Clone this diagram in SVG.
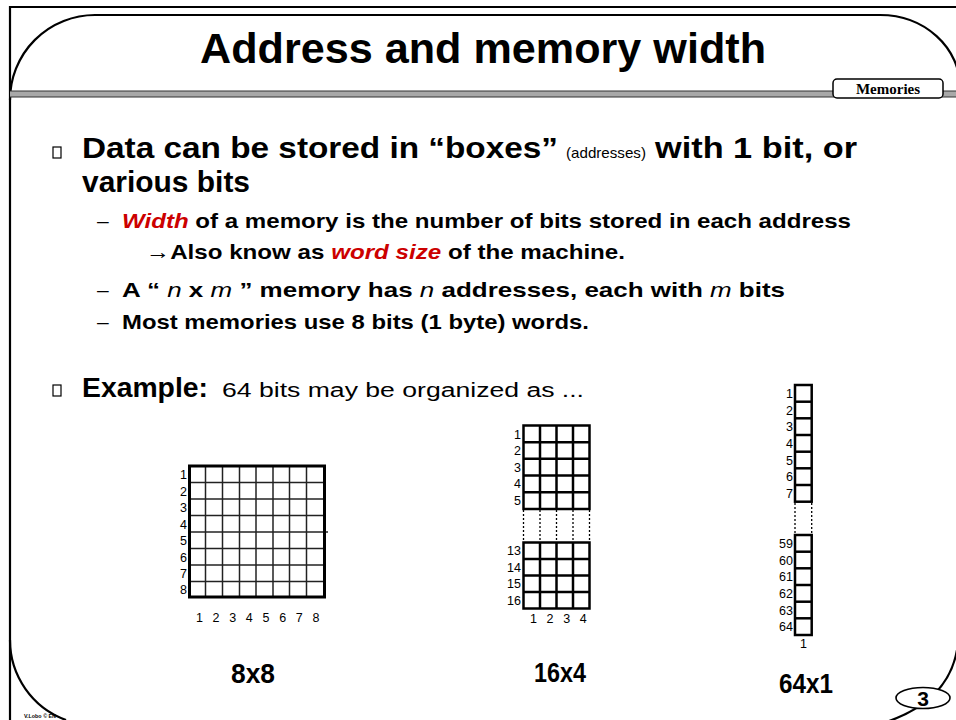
<svg xmlns="http://www.w3.org/2000/svg" width="956" height="720" viewBox="0 0 956 720">
<style>
.b{font-family:"Liberation Sans",Arial,sans-serif;font-weight:bold;fill:#000}
.n{font-family:"Liberation Sans",Arial,sans-serif;font-weight:normal;fill:#000}
.it{font-style:italic;font-weight:normal}
.red{fill:#CC0000;font-style:italic;font-weight:bold}
.lbl{font-family:"Liberation Sans",Arial,sans-serif;font-size:12.5px;fill:#000}
.frame{fill:none;stroke:#000;stroke-width:2.2}
.thick{fill:none;stroke:#000;stroke-width:3}
.thin{stroke:#222;stroke-width:1.5}
.cell{stroke:#000;stroke-width:2.5;fill:none}
.dot{stroke:#000;stroke-width:1.3;stroke-dasharray:2 2}
</style>

<g id="frame">
  <path class="frame" d="M10 720 V7 H956"/>
  <path class="frame" d="M10 100 A85 85 0 0 1 95 15 H880 A80 72 0 0 1 960 87"/>
  <path class="frame" d="M10 640 A85 85 0 0 0 66 720"/>
  <path class="frame" d="M957 650 C950 690 920 712 880 724"/>
  <rect x="10" y="91" width="946" height="6" fill="#a8a8a8"/>
  <line x1="10" y1="91" x2="956" y2="91" stroke="#333" stroke-width="1"/>
  <line x1="10" y1="97" x2="956" y2="97" stroke="#333" stroke-width="1"/>
  <text class="b" x="24" y="718" font-size="5.5" textLength="32" lengthAdjust="spacingAndGlyphs">V.Lobo © EN</text>
</g>

<g id="tab">
  <rect x="833" y="79" width="110" height="19" rx="4" fill="#fff" stroke="#000" stroke-width="1.5"/>
  <text x="888" y="94" text-anchor="middle" font-family="Liberation Serif,serif" font-weight="bold" font-size="15">Memories</text>
</g>

<g id="page-number">
  <ellipse cx="923" cy="698" rx="27" ry="10.5" fill="#fff" stroke="#000" stroke-width="1.6"/>
  <text class="b" x="923" y="706" text-anchor="middle" font-size="21">3</text>
</g>

<g id="title">
  <text class="b" x="200" y="63" font-size="42" textLength="566" lengthAdjust="spacingAndGlyphs">Address and memory width</text>
</g>

<g id="bullets">
  <rect x="53" y="147" width="8" height="11" fill="none" stroke="#000" stroke-width="1.2"/>
  <text class="b" x="82" y="158" font-size="29" textLength="476" lengthAdjust="spacingAndGlyphs">Data can be stored in “boxes”</text>
  <text class="n" x="566" y="158" font-size="15" textLength="80" lengthAdjust="spacingAndGlyphs">(addresses)</text>
  <text class="b" x="655" y="158" font-size="29" textLength="202" lengthAdjust="spacingAndGlyphs">with 1 bit, or</text>
  <text class="b" x="82" y="192" font-size="29" textLength="168" lengthAdjust="spacingAndGlyphs">various bits</text>

  <text class="n" x="97" y="228" font-size="21">–</text>
  <text class="b" x="122" y="228" font-size="21" textLength="729" lengthAdjust="spacingAndGlyphs"><tspan class="red">Width</tspan> of a memory is the number of bits stored in each address</text>

  <text class="b" x="146" y="259" font-size="21" textLength="479" lengthAdjust="spacingAndGlyphs">→Also know as <tspan class="red">word size</tspan> of the machine.</text>

  <text class="n" x="97" y="297" font-size="21">–</text>
  <text class="b" x="122" y="297" font-size="21" textLength="663" lengthAdjust="spacingAndGlyphs">A “ <tspan class="it">n</tspan> x <tspan class="it">m</tspan> ” memory has <tspan class="it">n</tspan> addresses, each with <tspan class="it">m</tspan> bits</text>

  <text class="n" x="97" y="329" font-size="21">–</text>
  <text class="b" x="122" y="329" font-size="21" textLength="467" lengthAdjust="spacingAndGlyphs">Most memories use 8 bits (1 byte) words.</text>

  <rect x="53" y="385" width="8" height="11" fill="none" stroke="#000" stroke-width="1.2"/>
  <text class="b" x="82" y="397" font-size="28" textLength="126" lengthAdjust="spacingAndGlyphs">Example:</text>
  <text class="n" x="222" y="397" font-size="20" textLength="362" lengthAdjust="spacingAndGlyphs">64 bits may be organized as ...</text>
</g>

<g id="mem-8x8">
  <g class="thin">
    <line x1="205.5" y1="466" x2="205.5" y2="597"/>
    <line x1="222.5" y1="466" x2="222.5" y2="597"/>
    <line x1="239.5" y1="466" x2="239.5" y2="597"/>
    <line x1="256" y1="466" x2="256" y2="597"/>
    <line x1="273" y1="466" x2="273" y2="597"/>
    <line x1="289.5" y1="466" x2="289.5" y2="597"/>
    <line x1="306.5" y1="466" x2="306.5" y2="597"/>
    <line x1="189" y1="482.5" x2="325" y2="482.5"/>
    <line x1="189" y1="499" x2="325" y2="499"/>
    <line x1="189" y1="515.5" x2="325" y2="515.5"/>
    <line x1="189" y1="532" x2="328" y2="532"/>
    <line x1="189" y1="548.5" x2="325" y2="548.5"/>
    <line x1="189" y1="565" x2="325" y2="565"/>
    <line x1="189" y1="581.5" x2="325" y2="581.5"/>
  </g>
  <rect class="thick" x="189.5" y="466" width="135" height="131"/>
  <g class="lbl" text-anchor="end">
    <text x="187" y="479">1</text><text x="187" y="495.5">2</text><text x="187" y="512">3</text><text x="187" y="528.5">4</text>
    <text x="187" y="545">5</text><text x="187" y="561.5">6</text><text x="187" y="578">7</text><text x="187" y="594">8</text>
  </g>
  <g class="lbl" text-anchor="middle">
    <text x="199.5" y="622">1</text><text x="216" y="622">2</text><text x="232.7" y="622">3</text><text x="249.3" y="622">4</text>
    <text x="266" y="622">5</text><text x="282.7" y="622">6</text><text x="299.3" y="622">7</text><text x="316" y="622">8</text>
  </g>
  <text class="b" x="253" y="683" text-anchor="middle" font-size="27" textLength="44" lengthAdjust="spacingAndGlyphs">8x8</text>
</g>

<g id="mem-16x4">
  <g class="cell">
    <rect x="523.5" y="425.5" width="66" height="83.5"/>
    <line x1="540" y1="425.5" x2="540" y2="509"/>
    <line x1="556.5" y1="425.5" x2="556.5" y2="509"/>
    <line x1="573" y1="425.5" x2="573" y2="509"/>
    <line x1="523.5" y1="442.2" x2="589.5" y2="442.2"/>
    <line x1="523.5" y1="458.8" x2="589.5" y2="458.8"/>
    <line x1="523.5" y1="475.5" x2="589.5" y2="475.5"/>
    <line x1="523.5" y1="492.2" x2="589.5" y2="492.2"/>
    <rect x="523.5" y="542.5" width="66" height="66"/>
    <line x1="540" y1="542.5" x2="540" y2="608.5"/>
    <line x1="556.5" y1="542.5" x2="556.5" y2="608.5"/>
    <line x1="573" y1="542.5" x2="573" y2="608.5"/>
    <line x1="523.5" y1="559" x2="589.5" y2="559"/>
    <line x1="523.5" y1="575.5" x2="589.5" y2="575.5"/>
    <line x1="523.5" y1="592" x2="589.5" y2="592"/>
  </g>
  <g class="dot">
    <line x1="523.5" y1="510" x2="523.5" y2="541"/>
    <line x1="540" y1="510" x2="540" y2="541"/>
    <line x1="556.5" y1="510" x2="556.5" y2="541"/>
    <line x1="573" y1="510" x2="573" y2="541"/>
    <line x1="589.5" y1="510" x2="589.5" y2="541"/>
  </g>
  <g class="lbl" text-anchor="end">
    <text x="521" y="438.5">1</text><text x="521" y="455">2</text><text x="521" y="471.5">3</text><text x="521" y="488">4</text><text x="521" y="505">5</text>
    <text x="521" y="555">13</text><text x="521" y="571.5">14</text><text x="521" y="588">15</text><text x="521" y="604.5">16</text>
  </g>
  <g class="lbl" text-anchor="middle">
    <text x="533.5" y="623">1</text><text x="550" y="623">2</text><text x="566.7" y="623">3</text><text x="583.3" y="623">4</text>
  </g>
  <text class="b" x="560" y="682" text-anchor="middle" font-size="27" textLength="52" lengthAdjust="spacingAndGlyphs">16x4</text>
</g>

<g id="mem-64x1">
  <g class="cell">
    <rect x="795" y="385" width="16.7" height="116.7"/>
    <line x1="795" y1="401.7" x2="811.7" y2="401.7"/>
    <line x1="795" y1="418.3" x2="811.7" y2="418.3"/>
    <line x1="795" y1="435" x2="811.7" y2="435"/>
    <line x1="795" y1="451.7" x2="811.7" y2="451.7"/>
    <line x1="795" y1="468.3" x2="811.7" y2="468.3"/>
    <line x1="795" y1="485" x2="811.7" y2="485"/>
    <rect x="795" y="535" width="16.7" height="100"/>
    <line x1="795" y1="551.7" x2="811.7" y2="551.7"/>
    <line x1="795" y1="568.3" x2="811.7" y2="568.3"/>
    <line x1="795" y1="585" x2="811.7" y2="585"/>
    <line x1="795" y1="601.7" x2="811.7" y2="601.7"/>
    <line x1="795" y1="618.3" x2="811.7" y2="618.3"/>
  </g>
  <g class="dot">
    <line x1="795" y1="503" x2="795" y2="534"/>
    <line x1="811.7" y1="503" x2="811.7" y2="534"/>
  </g>
  <g class="lbl" text-anchor="end">
    <text x="793" y="398">1</text><text x="793" y="414.5">2</text><text x="793" y="431">3</text><text x="793" y="448">4</text>
    <text x="793" y="464.5">5</text><text x="793" y="481">6</text><text x="793" y="498">7</text>
    <text x="793" y="548">59</text><text x="793" y="564.5">60</text><text x="793" y="581">61</text><text x="793" y="598">62</text>
    <text x="793" y="614.5">63</text><text x="793" y="631">64</text>
  </g>
  <text class="lbl" x="803.5" y="648" text-anchor="middle">1</text>
  <text class="b" x="806" y="693" text-anchor="middle" font-size="27" textLength="54" lengthAdjust="spacingAndGlyphs">64x1</text>
</g>
</svg>
